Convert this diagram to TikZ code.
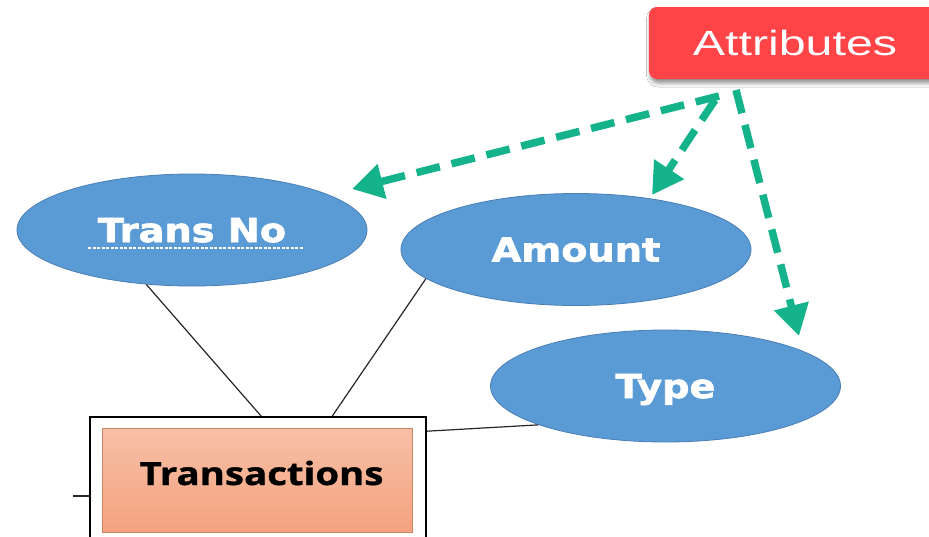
\documentclass[tikz,border=0pt]{standalone}
\usepackage{fontspec}
\usetikzlibrary{arrows.meta,shapes.geometric,shadows.blur}

\newfontfamily\attrfont{Liberation Sans}[FakeStretch=1.38]
\newfontfamily\ellfont{DejaVu Sans}[FakeStretch=1.16,FakeBold=2]
\newfontfamily\entfont{Open Sans}[FakeStretch=1.2,FakeBold=1]

\definecolor{ellblue}{HTML}{5B9BD5}
\definecolor{ellborder}{HTML}{4A7EB5}
\definecolor{attrred}{HTML}{FF4447}
\definecolor{arrowgreen}{HTML}{14B38B}
\definecolor{enttop}{HTML}{F7C0A7}
\definecolor{entbot}{HTML}{F4A27F}
\definecolor{entborder}{HTML}{C98467}

\begin{document}
\begin{tikzpicture}[x=1pt,y=-1pt,
  attrellipse/.style={ellipse, fill=ellblue, draw=ellborder, line width=0.8pt,
    minimum width=350pt, minimum height=112pt, inner sep=0pt, text=white,
    font=\ellfont\bfseries\fontsize{33}{40}\selectfont,
    text height=24pt, text depth=0pt},
  calloutbox/.style={rounded corners=8pt, fill=attrred, text=white,
    font=\attrfont\fontsize{35}{42}\selectfont,
    text height=25pt, text depth=0pt, inner xsep=44pt, minimum height=72pt,
    blur shadow={shadow xshift=1.5pt, shadow yshift=-4pt,
      shadow blur radius=4pt, shadow opacity=45}},
  entouter/.style={draw=black, line width=1.6pt, fill=white, inner sep=0pt,
    minimum width=336pt, minimum height=163pt},
  entinner/.style={draw=entborder, line width=0.8pt, top color=enttop,
    bottom color=entbot, inner sep=0pt, minimum width=310pt, minimum height=104pt},
  entlabel/.style={font=\entfont\bfseries\fontsize{32}{38}\selectfont,
    inner sep=0pt, text height=23pt, text depth=0pt},
  rel/.style={draw=black!85, line width=1.2pt},
  pointer/.style={draw=arrowgreen, line width=7.5pt, dash pattern=on 24pt off 12pt,
    -{Triangle[length=31pt,width=34pt]}},
  keyline/.style={draw=white, line width=1.4pt, dash pattern=on 3pt off 1.5pt}
]
\clip (0,0) rectangle (929,536);
\fill[white] (0,0) rectangle (929,536);

% entity
\node[entouter] (trans) at (258,498.5) {};
\node[entinner] (entfill) at (257,480) {};
\node[entlabel] (enttext) at (261.5,473.5) {Transactions};

% attributes
\node[attrellipse] (tn) at (192,230) {Trans No};
\node[attrellipse] (am) at (576,249.5) {Amount};
\node[attrellipse] (ty) at (665.5,386) {Type};

% key underline
\draw[keyline] ([xshift=-104pt,yshift=-18pt]tn.center) -- ([xshift=111pt,yshift=-18pt]tn.center);

% relationships between entity and attributes
\draw[rel] (tn.230) -- ([xshift=172pt]trans.north west);
\draw[rel] (am.191) -- ([xshift=243pt]trans.north west);
\draw[rel] (ty.197) -- ([yshift=-15pt]trans.north east);
\coordinate (offleft) at (73,496);
\draw[rel] (offleft) -- (trans.west |- offleft);

% callout
\node[calloutbox] (attr) at (795,43) {Attributes};

\coordinate (src1) at (719,96);
\coordinate (src2) at (715,100);
\coordinate (src3) at (736,90);
\coordinate (tipTN) at (352,189);
\coordinate (tipAM) at (652,195);
\coordinate (tipTY) at (799,336);

\draw[pointer] (src1) -- (tipTN);
\draw[pointer] (src2) -- (tipAM);
\draw[pointer] (src3) -- (tipTY);
\end{tikzpicture}
\end{document}
